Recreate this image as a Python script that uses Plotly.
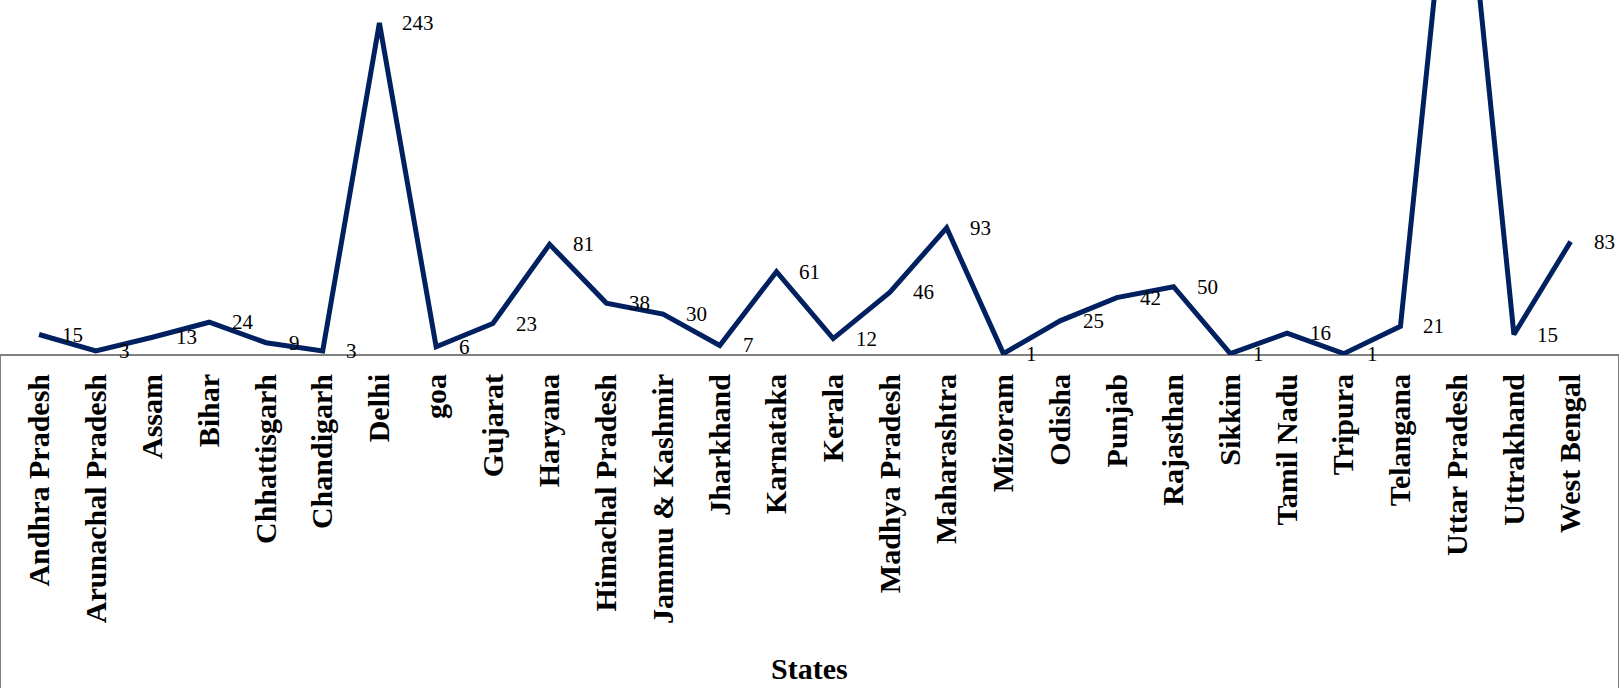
import plotly.graph_objects as go

# Number of cases by state
states = [
    "Andhra Pradesh", "Arunachal Pradesh", "Assam", "Bihar", "Chhattisgarh",
    "Chandigarh", "Delhi", "goa", "Gujarat", "Haryana", "Himachal Pradesh",
    "Jammu & Kashmir", "Jharkhand", "Karnataka", "Kerala", "Madhya Pradesh",
    "Maharashtra", "Mizoram", "Odisha", "Punjab", "Rajasthan", "Sikkim",
    "Tamil Nadu", "Tripura", "Telangana", "Uttar Pradesh", "Uttrakhand",
    "West Bengal",
]
cases = [15, 3, 13, 24, 9, 3, 243, 6, 23, 81, 38, 30, 7, 61, 12, 46, 93, 1,
         25, 42, 50, 1, 16, 1, 21, 425, 15, 83]

W, H = 1619, 688
LINE_COLOR = "#002060"
SERIF = "Liberation Serif"

fig = go.Figure()
fig.add_trace(go.Scatter(
    x=states, y=cases, mode="lines",
    line=dict(color=LINE_COLOR, width=5),
    hoverinfo="x+y", showlegend=False,
))

# value labels to the right of each point
annotations = [
    dict(x=s, y=v, xref="x", yref="y", text=str(v), showarrow=False,
         xanchor="left", yanchor="middle", xshift=21,
         font=dict(family=SERIF, size=21, color="#000000"))
    for s, v in zip(states, cases)
]
annotations.append(dict(
    x=0.5, y=0, xref="paper", yref="paper", yshift=-313, text="States",
    showarrow=False, xanchor="center", yanchor="middle",
    font=dict(family=SERIF, size=30, color="#000000", weight="bold"),
))

fig.update_layout(
    width=W, height=H,
    margin=dict(l=0, r=0, t=0, b=333),
    paper_bgcolor="white", plot_bgcolor="white",
    xaxis=dict(
        type="category", range=[-0.5, len(states) - 0.5],
        domain=[10.7 / W, 1599 / W],
        tickangle=-90, showgrid=False, zeroline=False, showline=False,
        ticks="", ticklabelstandoff=12,
        tickfont=dict(family=SERIF, size=30, color="#000000", weight="bold"),
    ),
    yaxis=dict(range=[0, 259.8], visible=False, showgrid=False, zeroline=False),
    annotations=annotations,
    shapes=[dict(type="rect", xref="paper", yref="paper", x0=0, x1=1,
                 y0=0, y1=-1.2, line=dict(color="#808080", width=2),
                 fillcolor="rgba(0,0,0,0)", layer="below")],
)

fig.write_html("out.html")
